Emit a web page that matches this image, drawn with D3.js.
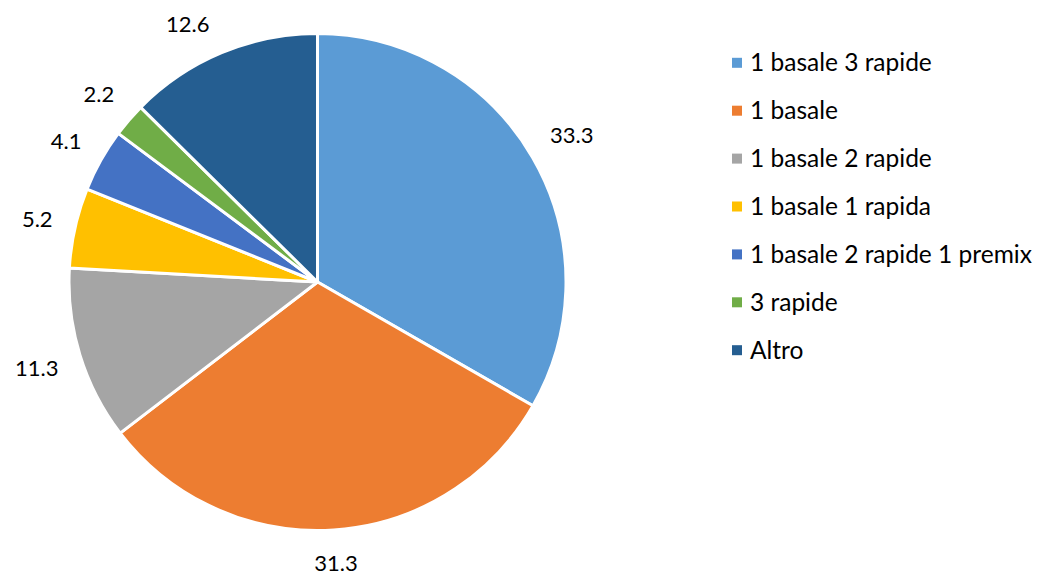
<!DOCTYPE html>
<html><head><meta charset="utf-8">
<script src="https://cdn.jsdelivr.net/npm/d3@7/dist/d3.min.js"></script>
<style>body{margin:0;background:#fff}svg{display:block}</style>
</head><body>
<svg id="c" width="1038" height="573"></svg>
<script>
const categories = ["1 basale 3 rapide","1 basale","1 basale 2 rapide","1 basale 1 rapida","1 basale 2 rapide 1 premix","3 rapide","Altro"];
const values = [33.3,31.3,11.3,5.2,4.1,2.2,12.6];
const labels = ["33.3","31.3","11.3","5.2","4.1","2.2","12.6"];
const colors = ["#5B9BD5","#ED7D31","#A5A5A5","#FFC000","#4472C4","#70AD47","#255E91"];

const svg = d3.select("#c");
const font = "Lato, 'Liberation Sans', sans-serif";
const cx = 317.5, cy = 282, r = 248.5;
const data = categories.map((c,i)=>({cat:c,val:values[i],lab:labels[i]}));
const pie = d3.pie().sort(null).value(d=>d.val).startAngle(0).endAngle(2*Math.PI);
const arc = d3.arc().innerRadius(0).outerRadius(r);
const color = d3.scaleOrdinal().domain(categories).range(colors);
const arcs = pie(data);
const g = svg.append("g").attr("transform",`translate(${cx},${cy})`);
g.selectAll("path").data(arcs).join("path")
  .attr("d",arc).attr("fill",d=>color(d.data.cat))
  .attr("stroke","#fff").attr("stroke-width",3).attr("stroke-linejoin","round");

// outside-end labels, kept inside the chart area (slid along the pie if they would leave it)
const pad = 21.5, hh = 10, minTop = 24 - cy;
function place(a, hw){
  const s = Math.sin(a), c = -Math.cos(a);
  const dist = r + pad + Math.abs(s)*hw + Math.abs(c)*hh;
  return [s*dist, c*dist];
}
g.selectAll("text.lab").data(arcs).join("text").attr("class","lab")
  .attr("font-family",font).attr("font-size",22).attr("fill","#000")
  .attr("text-anchor","middle").attr("dy","0.36em")
  .text(d=>d.data.lab)
  .each(function(d){
    const hw = this.getBBox().width/2;
    let a = (d.startAngle+d.endAngle)/2;
    let p = place(a, hw);
    const dir = Math.sin(a) < 0 ? -1 : 1;
    let guard = 0;
    while (p[1] < minTop && guard++ < 500) { a += dir*0.002; p = place(a, hw); }
    d3.select(this).attr("x", p[0]).attr("y", p[1]);
  });

const lx = 732, ly0 = 62.8, step = 47.9;
const rows = svg.append("g").selectAll("g").data(data).join("g")
  .attr("transform",(d,i)=>`translate(${lx},${ly0+i*step})`);
rows.append("rect").attr("x",0).attr("y",-5).attr("width",10).attr("height",10).attr("fill",d=>color(d.cat));
rows.append("text").attr("x",18).attr("y",8.6)
  .attr("font-family",font).attr("font-size",24.5).attr("fill","#000").text(d=>d.cat);
</script>
</body></html>
